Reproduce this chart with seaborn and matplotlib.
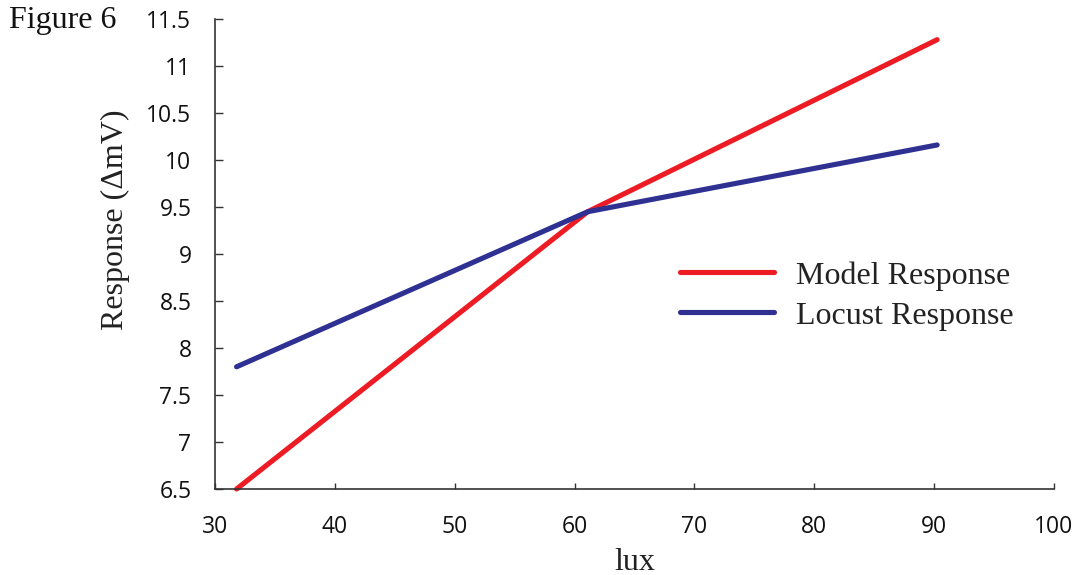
import matplotlib
matplotlib.use("Agg")
import pandas as pd
import matplotlib.pyplot as plt
import seaborn as sns

# values (piecewise-linear responses)
lux = [31.8, 61.1, 90.25]
model_response = [6.5, 9.45, 11.28]
locust_response = [7.8, 9.45, 10.16]
series_names = ["Model Response", "Locust Response"]
x_ticks = [30, 40, 50, 60, 70, 80, 90, 100]
y_ticks = [6.5, 7, 7.5, 8, 8.5, 9, 9.5, 10, 10.5, 11, 11.5]


def plot_figure6():
    df = pd.DataFrame({
        "lux": lux * 2,
        "response": model_response + locust_response,
        "series": [series_names[0]] * len(lux) + [series_names[1]] * len(lux),
    })

    sns.set_style("ticks")
    fig = plt.figure(figsize=(10.79, 5.75), dpi=100)
    ax = fig.add_axes([215 / 1079, 86 / 575, 839 / 1079, 470 / 575])

    sns.lineplot(data=df, x="lux", y="response", hue="series",
                 palette=["#ED1C24", "#2E3192"], linewidth=3.7,
                 clip_on=False, ax=ax)

    ax.set_xlim(30, 100)
    ax.set_ylim(6.5, 11.5)
    ax.set_xticks(x_ticks)
    ax.set_yticks(y_ticks)
    ax.set_yticklabels(["6.5", "7", "7.5", "8", "8.5", "9", "9.5", "10", "10.5", "11", "11.5"])
    sns.despine(ax=ax)
    for s in ["left", "bottom"]:
        ax.spines[s].set_linewidth(1.2)
        ax.spines[s].set_color("#333333")

    ax.tick_params(axis="y", direction="in", length=6, width=1, color="#333333", pad=17)
    ax.tick_params(axis="x", direction="in", length=4, width=1, color="#333333", pad=19)
    for t in ax.get_xticklabels() + ax.get_yticklabels():
        t.set_fontfamily("Open Sans")
        t.set_fontsize(16.5)
        t.set_color("#111111")

    ax.set_xlabel("lux", fontfamily="Liberation Serif", fontsize=23, labelpad=6, color="#222222")
    ax.set_ylabel("Response (\u0394mV)", fontfamily="Liberation Serif", fontsize=23,
                  labelpad=12, color="#222222", y=0.572)

    handles, labels = ax.get_legend_handles_labels()
    ax.legend(handles, labels, loc="upper left", bbox_to_anchor=(0.5195, 0.546),
              frameon=False, handlelength=2.95, handletextpad=0.7, labelspacing=0.33,
              prop={"family": "Liberation Serif", "size": 23}, labelcolor="#222222")

    fig.text(9 / 1079, 1 - 28 / 575, "Figure 6", fontfamily="Liberation Serif",
             fontsize=23, va="baseline", ha="left", color="#111111")

    fig.savefig("out.png", dpi=100)


if __name__ == "__main__":
    plot_figure6()
